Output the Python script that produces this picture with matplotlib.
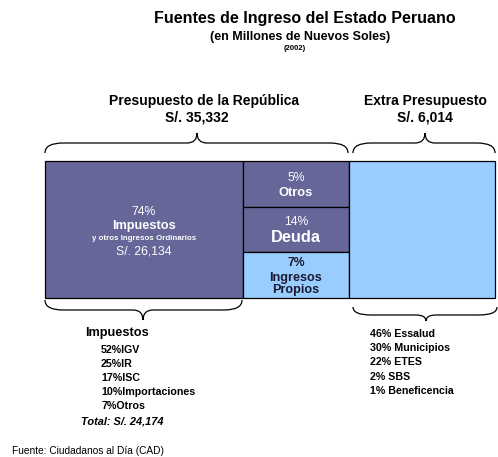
import matplotlib.pyplot as plt
from matplotlib.patches import Rectangle, PathPatch
from matplotlib.path import Path

plt.rcParams['font.family'] = ['Liberation Sans', 'DejaVu Sans']

# datos (millones de nuevos soles, 2002)
segment_pct = [74, 5, 14, 7]
segment_names = ["Impuestos", "Otros", "Deuda", "Ingresos\nPropios"]
total_republica = "35,332"
total_extra = "6,014"
total_impuestos_ord = "26,134"
total_impuestos = "24,174"
impuestos_pct = [52, 25, 17, 10, 7]
impuestos_names = ["IGV", "IR", "ISC", "Importaciones", "Otros"]
extra_pct = [46, 30, 22, 2, 1]
extra_names = ["Essalud", "Municipios", "ETES", "SBS", "Beneficencia"]

PURPLE = '#666699'
LIGHT = '#99CCFF'
DARK = '#1a1a33'

fig = plt.figure(figsize=(4.98, 4.57), dpi=100)
ax = fig.add_axes([0, 0, 1, 1])
ax.set_xlim(0, 498)
ax.set_ylim(457, 0)
ax.axis('off')


def brace(x0, x1, xt, yb, ym, yt, r=18, r2=10):
    verts = [(x0, yb), (x0, ym), (x0 + r, ym),
             (xt - r2, ym), (xt, ym), (xt, yt),
             (xt, ym), (xt + r2, ym),
             (x1 - r, ym), (x1, ym), (x1, yb)]
    codes = [Path.MOVETO, Path.CURVE3, Path.CURVE3,
             Path.LINETO, Path.CURVE3, Path.CURVE3,
             Path.CURVE3, Path.CURVE3,
             Path.LINETO, Path.CURVE3, Path.CURVE3]
    ax.add_patch(PathPatch(Path(verts, codes), fill=False, lw=0.9, color='black'))


# titulo
ax.text(305, 18, "Fuentes de Ingreso del Estado Peruano", ha='center', va='center',
        fontsize=11.5, fontweight='bold')
ax.text(300, 37, "(en Millones de Nuevos Soles)", ha='center', va='center',
        fontsize=9, fontweight='bold')
ax.text(295, 48, "(2002)", ha='center', va='center', fontsize=5.5, fontweight='bold')

# cabeceras
ax.text(204, 101, "Presupuesto de la República", ha='center', va='center',
        fontsize=10, fontweight='bold')
ax.text(197, 118, "S/. " + total_republica, ha='center', va='center',
        fontsize=10, fontweight='bold')
ax.text(425, 101, "Extra Presupuesto", ha='center', va='center',
        fontsize=10, fontweight='bold')
ax.text(425, 118, "S/. " + total_extra, ha='center', va='center',
        fontsize=10, fontweight='bold')

brace(45, 348, 197, 153, 143, 133)
brace(353, 495, 425, 153, 143, 133)
brace(45, 242, 143, 300, 310, 320)
brace(353, 497, 426, 307, 315, 321)

# bloques
top, bottom = 161, 298
ax.add_patch(Rectangle((45, top), 198, bottom - top, facecolor=PURPLE, edgecolor='black', lw=0.9))
cell_h = (bottom - top) / 3
mid_colors = [PURPLE, PURPLE, LIGHT]
for i in range(3):
    ax.add_patch(Rectangle((243, top + i * cell_h), 106, cell_h, facecolor=mid_colors[i],
                           edgecolor='black', lw=0.9))
ax.add_patch(Rectangle((349, top), 146, bottom - top, facecolor=LIGHT, edgecolor='black', lw=0.9))

# textos dentro
ax.text(144, 212, f"{segment_pct[0]}%", ha='center', va='center', color='white', fontsize=8.8)
ax.text(144, 226, segment_names[0], ha='center', va='center', color='white',
        fontsize=9.2, fontweight='bold')
ax.text(144, 239, "y otros Ingresos Ordinarios", ha='center', va='center', color='white',
        fontsize=5.7, fontweight='bold')
ax.text(144, 251, "S/. " + total_impuestos_ord, ha='center', va='center', color='white',
        fontsize=8.8)

ax.text(296, 178, f"{segment_pct[1]}%", ha='center', va='center', color='white', fontsize=8.8)
ax.text(296, 193, segment_names[1], ha='center', va='center', color='white',
        fontsize=9.3, fontweight='bold')
ax.text(296, 222, f"{segment_pct[2]}%", ha='center', va='center', color='white', fontsize=8.8)
ax.text(296, 237, segment_names[2], ha='center', va='center', color='white',
        fontsize=11.8, fontweight='bold')
ax.text(296, 263, f"{segment_pct[3]}%", ha='center', va='center', color=DARK,
        fontsize=8.8, fontweight='bold')
ax.text(296, 284, segment_names[3], ha='center', va='center', color=DARK,
        fontsize=9.1, fontweight='bold', linespacing=1.0)

# listas
ax.text(85, 333, "Impuestos", ha='left', va='center', fontsize=9.2, fontweight='bold')
for i, (p, n) in enumerate(zip(impuestos_pct, impuestos_names)):
    ax.text(101, 350 + i * 14, f"{p}%{n}", ha='left', va='center', fontsize=7.7,
            fontweight='bold')
ax.text(81, 422, "Total: S/. " + total_impuestos, ha='left', va='center', fontsize=7.9,
        fontweight='bold', style='italic')

for i, (p, n) in enumerate(zip(extra_pct, extra_names)):
    ax.text(370, 334 + i * 14.2, f"{p}% {n}", ha='left', va='center', fontsize=7.7,
            fontweight='bold')

ax.text(12, 451, "Fuente: Ciudadanos al Día (CAD)", ha='left', va='center', fontsize=7.3)

plt.savefig('out.png', dpi=100)
